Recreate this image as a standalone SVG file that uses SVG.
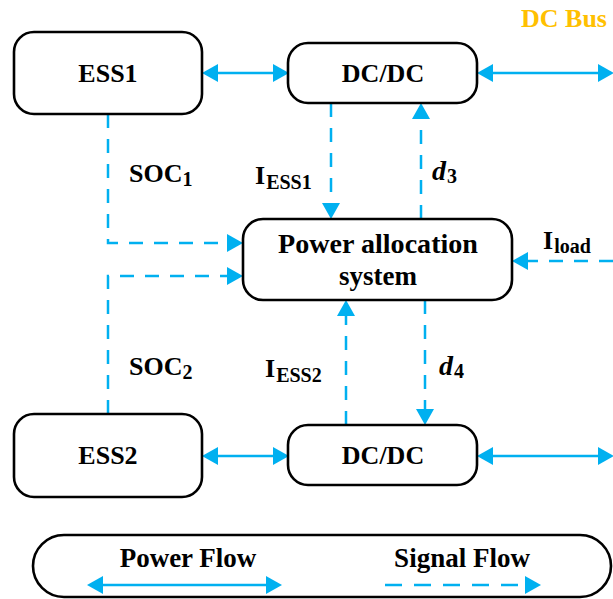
<svg xmlns="http://www.w3.org/2000/svg" width="613" height="599" viewBox="0 0 613 599">
<defs>
<marker id="ah" viewBox="0 0 16 18" markerWidth="16" markerHeight="18" markerUnits="userSpaceOnUse" refX="4" refY="9" orient="auto-start-reverse">
<path d="M0,0 L16,9 L0,18 Z" fill="#00B0F0"/>
</marker>
<style>
.box{fill:#fff;stroke:#000;stroke-width:2.6}
.t{font-family:'Liberation Serif','Times New Roman',serif;font-weight:700;font-size:26px;fill:#000}
.c{text-anchor:middle}
.sub{font-size:20px}
.it{font-style:italic;font-size:28px}
.pw{fill:none;stroke:#00B0F0;stroke-width:2.7}
.sg{fill:none;stroke:#00B0F0;stroke-width:2.5;stroke-dasharray:14 11}
</style>
</defs>
<rect width="613" height="599" fill="#fff"/>

<g id="connectors">
<line class="pw" x1="214" y1="73" x2="277" y2="73" marker-start="url(#ah)" marker-end="url(#ah)"/>
<line class="pw" x1="489" y1="73" x2="602" y2="73" marker-start="url(#ah)" marker-end="url(#ah)"/>
<line class="pw" x1="214" y1="456" x2="277" y2="456" marker-start="url(#ah)" marker-end="url(#ah)"/>
<line class="pw" x1="489" y1="456" x2="602" y2="456" marker-start="url(#ah)" marker-end="url(#ah)"/>
<path class="sg" d="M108,114 V243 H231" marker-end="url(#ah)"/>
<path class="sg" d="M108,414 V276 H231" marker-end="url(#ah)"/>
<path class="sg" d="M331,103 V207" marker-end="url(#ah)"/>
<path class="sg" d="M421,219 V115" marker-end="url(#ah)"/>
<path class="sg" d="M346,425 V312" marker-end="url(#ah)"/>
<path class="sg" d="M425,300 V413" marker-end="url(#ah)"/>
<path class="sg" d="M613,261 H524" marker-end="url(#ah)"/>
</g>

<g id="ess1"><rect class="box" x="14" y="32" width="188" height="82" rx="20"/><text class="t c" x="108" y="82">ESS1</text></g>
<g id="dcdc1"><rect class="box" x="288" y="43" width="189" height="60" rx="20"/><text class="t c" x="383" y="82">DC/DC</text></g>
<g id="pas"><rect class="box" x="243" y="219" width="269" height="81" rx="20"/><text class="t c" x="378" y="253" style="font-size:28px" textLength="200" lengthAdjust="spacingAndGlyphs">Power allocation</text><text class="t c" x="378" y="285" style="font-size:27px">system</text></g>
<g id="ess2"><rect class="box" x="14" y="414" width="188" height="83" rx="20"/><text class="t c" x="108" y="464">ESS2</text></g>
<g id="dcdc2"><rect class="box" x="288" y="425" width="189" height="60" rx="20"/><text class="t c" x="383" y="464">DC/DC</text></g>

<g id="labels">
<text class="t" x="521" y="27" style="fill:#FFC000">DC Bus</text>
<text class="t" x="129" y="182">SOC<tspan class="sub" dy="4">1</tspan></text>
<text class="t" x="129" y="375">SOC<tspan class="sub" dy="4">2</tspan></text>
<text class="t" x="255" y="184">I<tspan class="sub" dx="1" dy="5">ESS1</tspan></text>
<text class="t" x="265" y="377">I<tspan class="sub" dx="1" dy="5">ESS2</tspan></text>
<text class="t" x="432" y="180"><tspan class="it">d</tspan><tspan class="sub" dx="1" dy="3">3</tspan></text>
<text class="t" x="439" y="375"><tspan class="it">d</tspan><tspan class="sub" dx="1" dy="3">4</tspan></text>
<text class="t" x="543" y="249">I<tspan class="sub" dx="1" dy="4">load</tspan></text>
</g>

<g id="legend">
<rect class="box" x="33" y="535" width="578" height="62" rx="31"/>
<text class="t c" x="188" y="567" style="font-size:27px">Power Flow</text>
<text class="t c" x="462" y="567" style="font-size:27px">Signal Flow</text>
<line class="pw" x1="99" y1="585" x2="270" y2="585" marker-start="url(#ah)" marker-end="url(#ah)"/>
<line class="sg" x1="385" y1="585" x2="529" y2="585" style="stroke-dasharray:17 12" marker-end="url(#ah)"/>
</g>
</svg>
